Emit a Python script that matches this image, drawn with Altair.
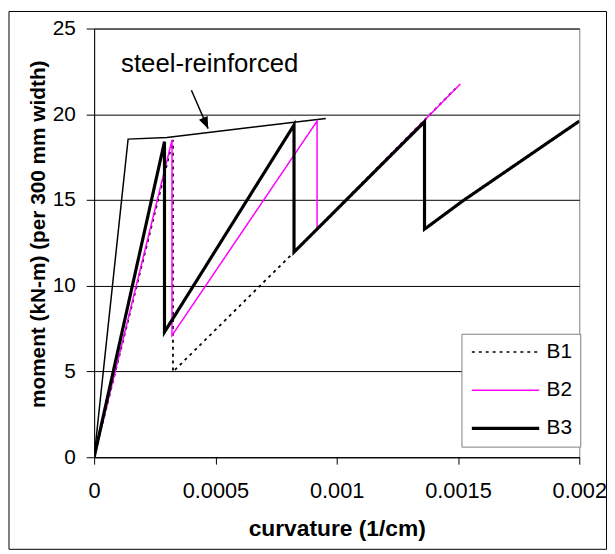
import altair as alt
import pandas as pd

# ---- data ----
series_names = ["B1", "B2", "B3"]
series_colors = ["#000000", "#FF00FF", "#000000"]
series_dash = [[3, 4], [1, 0], [1, 0]]
series_widths = [1.8, 1.5, 3.2]

B1_x = [0, 0.000325, 0.000325, 0.000824, 0.00149]
B1_y = [0, 18.5, 4.98, 11.96, 21.5]

B2_x = [0, 0.000321, 0.000321, 0.000919, 0.000919, 0.00151]
B2_y = [0, 18.5, 7.1, 19.6, 13.3, 21.77]

B3_x = [0, 0.00029, 0.00029, 0.000824, 0.000824, 0.001362, 0.001362, 0.00152, 0.002]
B3_y = [0, 18.4, 7.3, 19.37, 11.96, 19.56, 13.3, 14.95, 19.6]

steel_x = [0, 0.00014, 0.0003, 0.000955]
steel_y = [0, 18.55, 18.65, 19.75]

x_ticks = [0, 0.0005, 0.001, 0.0015, 0.002]
y_ticks = [0, 5, 10, 15, 20, 25]

annot_text = ["steel-reinforced"]
annot_x = [0.000111]
annot_y = [22.45]
arrow_from = [0.000401, 21.4]
arrow_to = [0.00047, 19.16]

FONT = "Liberation Sans"


def frame(k, xs, ys):
    return pd.DataFrame({"series": series_names[k], "x": xs, "y": ys,
                         "w": series_widths[k], "i": list(range(len(xs)))})


df = pd.concat([frame(0, B1_x, B1_y), frame(1, B2_x, B2_y), frame(2, B3_x, B3_y)],
               ignore_index=True)
steel_df = pd.DataFrame({"x": steel_x, "y": steel_y, "i": list(range(len(steel_x)))})

xscale = alt.Scale(domain=[0, 0.002], nice=False, zero=False)
yscale = alt.Scale(domain=[0, 25], nice=False)

leg = alt.Legend(
    title=None, orient="none", legendX=371, legendY=308.3,
    symbolType="stroke", symbolSize=4624, labelFontSize=21, labelFont=FONT,
    labelColor="#000000", labelOffset=31, symbolOffset=26, rowPadding=16.5, padding=8,
    strokeColor="#808080", fillColor="#ffffff",
    symbolStrokeWidth={"expr": "datum.value === 'B3' ? 3.2 : 1.5"},
)

x_enc = alt.X("x:Q", scale=xscale, axis=alt.Axis(
    values=x_ticks, format="~g", title="curvature (1/cm)", grid=False,
    labelFontSize=22, labelPadding=17, tickSize=7, titleFontSize=23,
    titleFontWeight="bold", titleY=72, titleBaseline="middle",
    labelFlush=False,
))
y_enc = alt.Y("y:Q", scale=yscale, axis=alt.Axis(
    values=y_ticks, title="moment (kN-m) (per 300 mm width)", grid=True,
    labelFontSize=21, labelPadding=11, tickSize=8, titleFontSize=21,
    titleFontWeight="bold", titleX=-56.5, titleY=207.3, titleAlign="center",
    titleBaseline="middle", titleAngle=270,
))

lines = alt.Chart(df).mark_line(clip=True).encode(
    x=x_enc,
    y=y_enc,
    order="i:Q",
    color=alt.Color("series:N", scale=alt.Scale(domain=series_names, range=series_colors), legend=leg),
    strokeDash=alt.StrokeDash("series:N", scale=alt.Scale(domain=series_names, range=series_dash), legend=leg),
    strokeWidth=alt.StrokeWidth("w:Q", scale=None),
)

steel = alt.Chart(steel_df).mark_line(color="#000000", strokeWidth=1.5, clip=True).encode(
    x="x:Q", y="y:Q", order="i:Q"
)

txt = alt.Chart(pd.DataFrame({"t": annot_text, "x": annot_x, "y": annot_y})).mark_text(
    align="left", baseline="alphabetic", fontSize=26, font=FONT, color="#000000"
).encode(x="x:Q", y="y:Q", text="t:N")

arrow_df = pd.DataFrame({"x": [arrow_from[0]], "y": [arrow_from[1]],
                         "x2": [arrow_to[0]], "y2": [arrow_to[1]]})
arrow_line = alt.Chart(arrow_df).mark_rule(color="#000000", strokeWidth=1.5).encode(
    x="x:Q", y="y:Q", x2="x2:Q", y2="y2:Q"
)
arrow_head = alt.Chart(arrow_df).mark_point(
    shape="M0,0L-0.8,-2L0.8,-2Z", filled=True, size=144, angle=336,
    color="#000000", opacity=1, strokeWidth=0
).encode(x="x2:Q", y="y2:Q")

border = alt.Chart(pd.DataFrame({"a": [0]})).mark_rect(
    fill=None, stroke="#000000", strokeWidth=1
).encode(
    x=alt.value(-86), x2=alt.value(517.5), y=alt.value(-17.2), y2=alt.value(526)
)

chart = alt.layer(border, steel, lines, arrow_line, arrow_head, txt).properties(
    width=490, height=433, padding=0
).configure_view(
    stroke="#808080", strokeWidth=1
).configure_axis(
    labelFont=FONT, titleFont=FONT, labelColor="#000000", titleColor="#000000",
    domainColor="#000000", tickColor="#000000", gridColor="#000000",
    gridOpacity=1, domainWidth=1, tickWidth=1, gridWidth=1,
).configure_legend(labelFont=FONT)

chart.save("out.html", embed_options={"renderer": "svg", "actions": False})
